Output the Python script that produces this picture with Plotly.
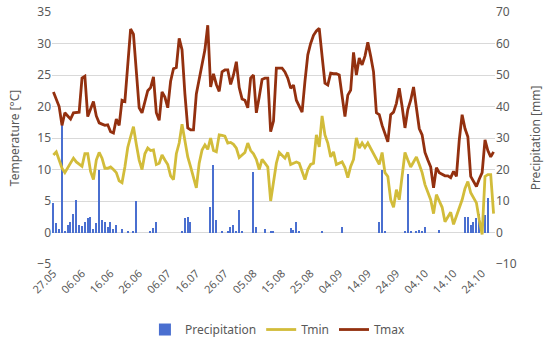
import pandas as pd
import plotly.graph_objects as go

start_date = "2019-05-27"
n_days = 155

tmax = [22.3, 21, 20, 17, 19, 18.5, 18, 19, 19, 19.1,
        24.5, 24.8, 18.4, 19.5, 20.8, 18.5, 17.4, 17.2, 17, 17.1,
        16, 15.8, 18, 17, 21, 20.8, 26, 32.3, 31.5, 25,
        19.8, 19, 21, 22.5, 23, 24.7, 19, 17.8, 22.3, 21.5,
        19.8, 24, 26, 26.2, 30.8, 29, 22, 16.6, 16.3, 16.3,
        22, 24.5, 26.5, 29, 32.9, 23.1, 25.2, 23.5, 22.4, 25.5,
        25.8, 25.8, 23.5, 25, 27.1, 23, 21.2, 21, 19.8, 24.5,
        25, 19, 21.5, 24.3, 24.5, 24.5, 16, 17.7, 26.1, 26.1,
        26.1, 25.5, 24.5, 22.9, 23.4, 21, 20, 19.1, 24, 28.2,
        30, 31.3, 32, 32.4, 28, 23.7, 23.4, 25.3, 25.2, 25.2,
        25, 22, 18.4, 21.8, 22.6, 28.6, 25, 27.7, 26.6, 28,
        30.2, 28, 25.5, 19, 18.7, 17, 15.5, 14.4, 18.7, 19.1,
        20.5, 22.9, 20, 16.6, 19.5, 21, 23.1, 19.9, 16.5, 15.5,
        12.7, 11.5, 10.4, 7.1, 10.3, 9.5, 9.2, 9, 9, 8.7,
        9.7, 8.9, 14.7, 18.7, 16.5, 15.2, 8.9, 8, 7.3, 8.5,
        9.5, 14.7, 13, 12, 12.8]

tmin = [12.3, 12.8, 11.5, 10.2, 9.5, 10.3, 11.2, 11.8, 11.2, 10.8,
        10.5, 12.5, 12.5, 9.7, 8.4, 11.5, 12.7, 11.8, 10.2, 10.2,
        10.4, 10, 9.5, 8.2, 7.9, 10.4, 13.5, 15.2, 16.8, 14,
        11.5, 10, 12.5, 13.4, 13, 13.1, 10.8, 11, 12.3, 11.5,
        10.8, 9, 8.4, 12.5, 14.2, 17.2, 14.5, 12, 10.4, 8.9,
        7.1, 11, 13.1, 13.9, 13.2, 15, 13, 12.8, 15.5, 15.4,
        15.3, 14.2, 14.3, 14, 13.4, 11.9, 12.3, 12.7, 14.2, 13,
        12.5, 11.6, 10, 11.6, 11, 10.4, 5, 8, 11, 12.7,
        12.2, 11.8, 12.7, 10.8, 11, 11.2, 11, 9.5, 8.4, 10,
        10.8, 11, 15.5, 13.6, 18.5, 15.5, 14.2, 12, 12.8, 10.8,
        11, 11.2, 10.3, 8.7, 10.5, 11.6, 15, 13.4, 14.2, 13.5,
        14.2, 13.4, 12.5, 11.6, 10.8, 12.7, 9.5, 8.9, 5.2, 4,
        6.8, 5.2, 8.9, 12.7, 11.5, 10.4, 11.2, 12, 10.8, 9.5,
        7.6, 6.5, 5.2, 3, 6, 5, 4, 1.7, 2.5, 3.2,
        1.3, 2.5, 3.8, 5.2, 7, 8.1, 6.3, 5.5, 4.7, 2,
        -0.3, 8.9, 9.2, 9.2, 3]

precip = [9.5, 3, 1, 34, 0.5, 2.5, 3.2, 6, 10.4, 2.5,
          2, 3.2, 4.7, 5, 1, 3, 20, 4.1, 3.2, 1.9,
          3.2, 1, 2.5, 0, 1, 0, 0.5, 0, 0.5, 10,
          0, 0, 0, 0, 0.5, 1.5, 3.2, 0, 0, 0,
          0, 0, 0, 0, 0, 0.5, 4.7, 5, 3.2, 0,
          0, 0, 0, 0, 0, 8.2, 21.5, 4.1, 0, 0.5,
          0, 0.5, 1.9, 2.5, 0.5, 7.3, 0.5, 0, 0, 0,
          19.3, 1.6, 0, 0, 1, 0, 0.5, 0.5, 0, 0,
          0, 0, 0, 1.3, 0.8, 3.2, 0.3, 0, 0, 0,
          0, 0, 0, 0, 0.5, 0, 0, 0, 0, 0,
          0, 1.6, 0, 0, 0, 0, 0, 0, 0, 0,
          0, 0, 0, 0, 3.2, 20, 0.5, 0, 0, 0,
          0, 0, 0, 0.5, 18.5, 0.5, 0, 0.5, 0.8, 0.5,
          1.6, 0, 0, 0, 0, 0.8, 0, 0, 0, 0,
          0, 0, 0, 0, 5, 5, 2.5, 3.2, 4.7, 6,
          0, 5.7, 11, 0, 0]

dates = pd.date_range(start_date, periods=n_days, freq="D")
DAY = 86400000

grey = "#595959"
font_family = "Noto Sans"

fig = go.Figure()
fig.add_trace(go.Bar(x=dates, y=precip, name="Precipitation", yaxis="y",
                     marker=dict(color="#4A6FD0", line=dict(width=0)),
                     width=0.45 * DAY))
fig.add_trace(go.Scatter(x=dates, y=tmin, name="Tmin", yaxis="y2", mode="lines",
                         line=dict(color="#D2BC3A", width=2.8)))
fig.add_trace(go.Scatter(x=dates, y=tmax, name="Tmax", yaxis="y2", mode="lines",
                         line=dict(color="#93300F", width=2.8)))

fig.update_layout(
    width=550, height=345,
    margin=dict(l=52, r=55, t=12, b=81, autoexpand=False),
    paper_bgcolor="white", plot_bgcolor="white",
    font=dict(family=font_family, size=11, color=grey),
    bargap=0,
    showlegend=True,
    legend=dict(orientation="h", x=0.51, xanchor="center", y=-0.26, yanchor="middle",
                font=dict(size=12, color=grey), itemwidth=30,
                traceorder="normal"),
    xaxis=dict(type="date", automargin=False,
               range=[dates[0] - pd.Timedelta(hours=12), dates[-1] + pd.Timedelta(hours=12)],
               tick0=dates[0], dtick=10 * DAY, tickformat="%d.%m", tickangle=-45,
               showgrid=False, showline=False, zeroline=False, ticks="",
               tickfont=dict(size=11, color=grey)),
    yaxis=dict(side="right", range=[-10, 70], dtick=10, showgrid=True, automargin=False,
               gridcolor="#D9D9D9", gridwidth=1, zeroline=False, showline=False,
               title=dict(text="Precipitation [mm]", font=dict(size=12, color=grey)),
               tickfont=dict(size=12, color=grey)),
    yaxis2=dict(side="left", overlaying="y", range=[-5, 35], dtick=5, showgrid=False,
                zeroline=False, showline=False, automargin=False,
                title=dict(text="Temperature [°C]", font=dict(size=12, color=grey)),
                tickfont=dict(size=12, color=grey)),
)

fig.write_html("out.html", config={"displayModeBar": False},
               post_script="document.body.style.margin='0';document.body.style.overflow='hidden';")
